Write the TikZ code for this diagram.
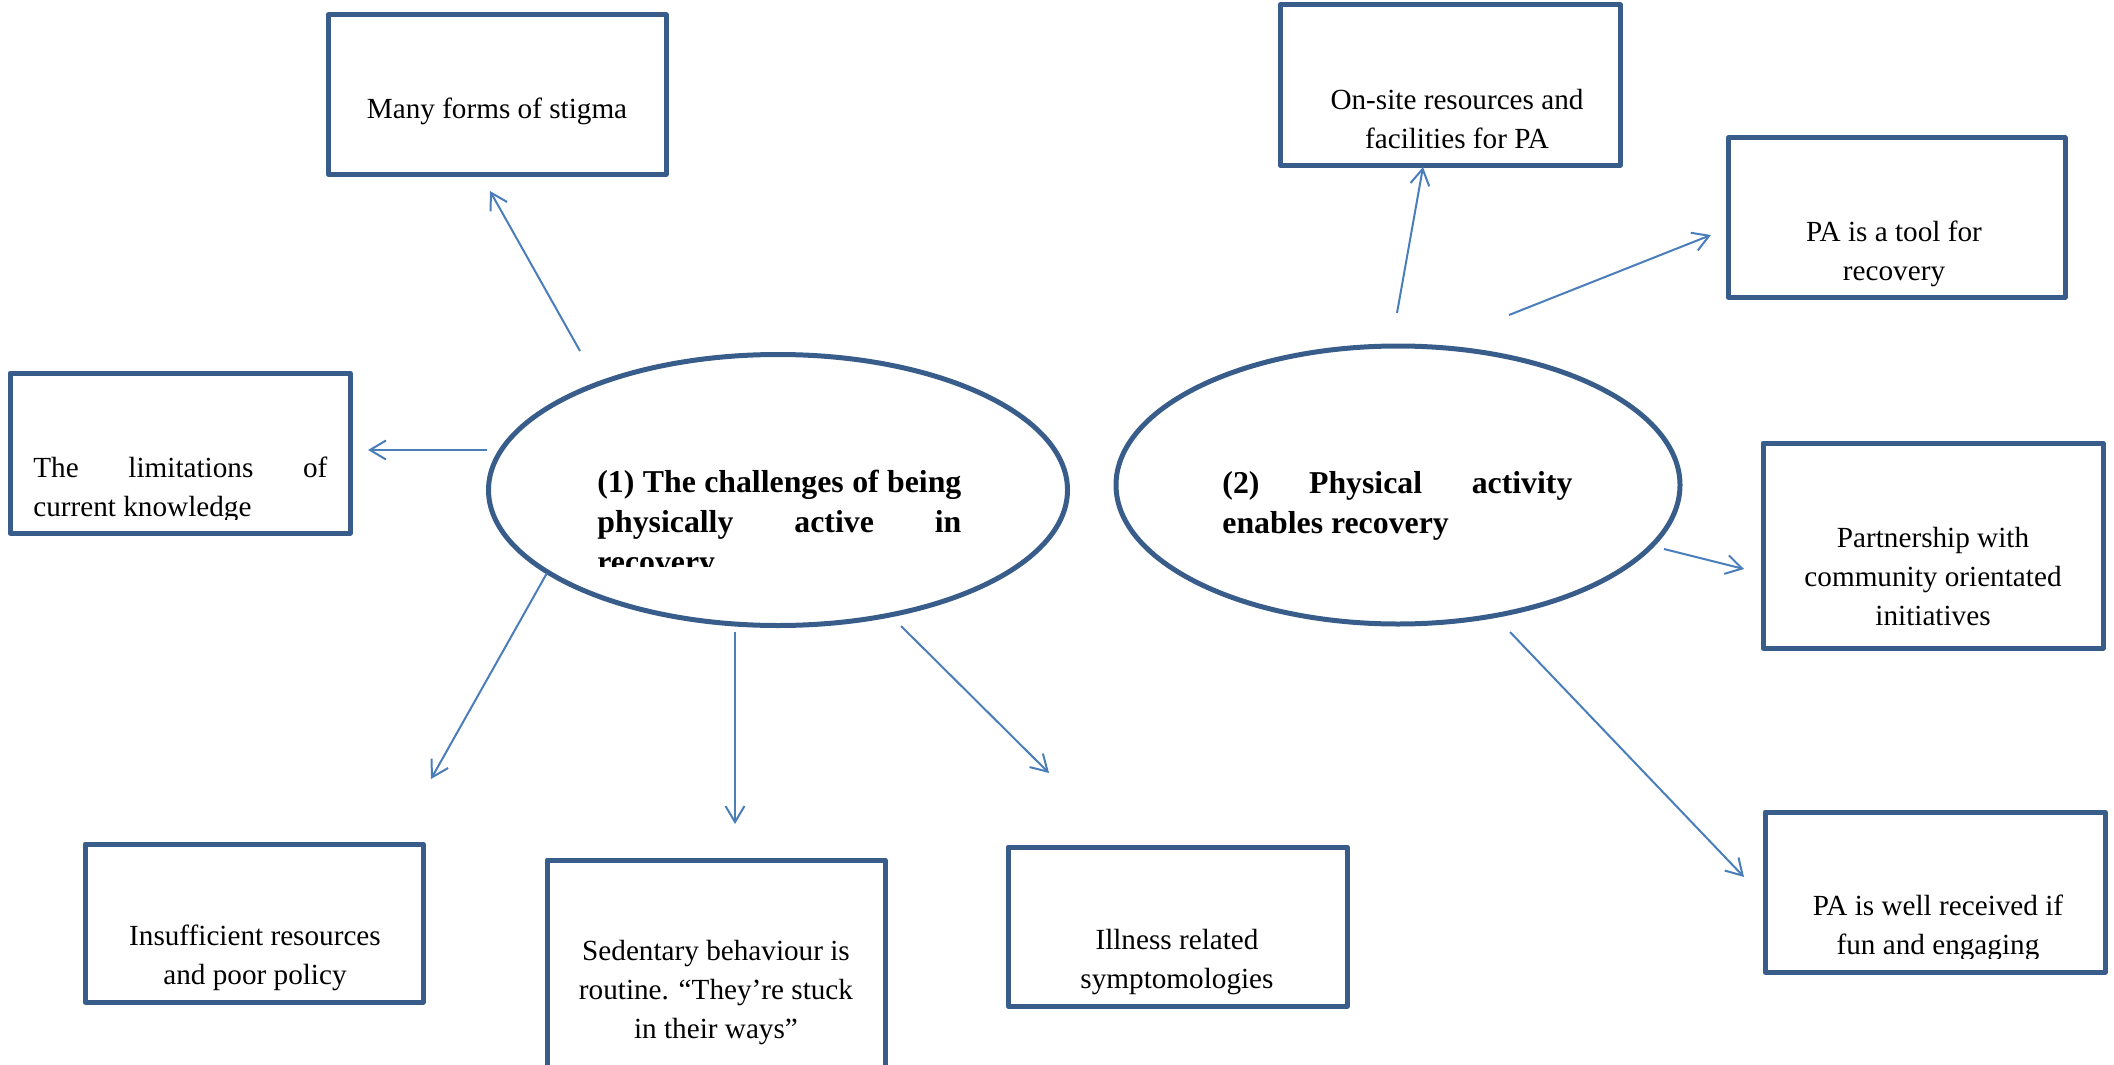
\documentclass[tikz,border=0pt]{standalone}
\usepackage{fontspec}
\setmainfont{Liberation Serif}
\usetikzlibrary{arrows.meta,shapes.geometric,fit}
\definecolor{frameblue}{HTML}{385D8A}
\definecolor{linkblue}{HTML}{4A7EBB}
\tikzset{
  themebox/.style={draw=frameblue, line width=2.5pt, line join=round, inner sep=0pt},
  core/.style={ellipse, draw=frameblue, line width=2.5pt, inner sep=0pt},
  boxtext/.style={anchor=base, inner sep=0pt, font=\fontsize{14.6}{19.5}\selectfont},
  coretext/.style={anchor=base west, inner sep=0pt, font=\fontsize{15.9}{20}\selectfont\bfseries},
  link/.style={draw=linkblue, line width=1pt, -{Straight Barb[length=8pt,width=9.5pt]}}
}
\begin{document}
\begin{tikzpicture}[x=0.5pt,y=-0.5pt]
\path[clip] (0,0) rectangle (2114,1065);

% central themes
\node[core, minimum width=289.5pt, minimum height=135.5pt] (e1) at (778,490) {};
\node[core, minimum width=282pt, minimum height=139pt] (e2) at (1398,485) {};
\begin{scope}
  \clip (580,440) rectangle (1000,566);
  \node[coretext] (e1t) at (597,492)
    {\parbox[t]{182pt}{(1) The challenges of being\linebreak physically active in\linebreak recovery}};
\end{scope}
\node[coretext] (e2t) at (1222,493)
  {\parbox[t]{175pt}{(2) Physical activity\linebreak enables recovery}};

% sub-theme boxes
\node[themebox, fit={(328,15) (666,174)}] (b1) {};
\node[themebox, fit={(1280,5) (1620,165)}] (b2) {};
\node[themebox, fit={(1728,138) (2065,297)}] (b3) {};
\node[themebox, fit={(10,373) (350,533)}] (b4) {};
\node[themebox, fit={(1763,443) (2103,648)}] (b5) {};
\node[themebox, fit={(85,844) (423,1002)}] (b6) {};
\node[themebox, fit={(547,860) (885,1075)}] (b7) {};
\node[themebox, fit={(1008,847) (1347,1006)}] (b8) {};
\node[themebox, fit={(1765,812) (2105,972)}] (b9) {};

% box texts
\node[boxtext] (t1) at (497,119) {Many forms of stigma};
\node[boxtext] (t2) at (1457,110) {\parbox[t]{165pt}{\centering On-site resources and\\facilities for PA}};
\node[boxtext] (t3) at (1894,241) {\parbox[t]{165pt}{\centering PA is a tool for\\recovery}};
\begin{scope}
  \clip (20,380) rectangle (345,519);
  \node[boxtext, anchor=base west] (t4) at (33,477)
    {\parbox[t]{147pt}{The limitations of\linebreak current knowledge}};
\end{scope}
\node[boxtext] (t5) at (1933,547) {\parbox[t]{165pt}{\centering Partnership with\\community orientated\\initiatives}};
\node[boxtext] (t6) at (255,945) {\parbox[t]{165pt}{\centering Insufficient resources\\and poor policy}};
\node[boxtext] (t7) at (716,960) {\parbox[t]{165pt}{\centering Sedentary behaviour is\\routine. “They’re stuck\\in their ways”}};
\node[boxtext] (t8) at (1177,949) {\parbox[t]{165pt}{\centering Illness related\\symptomologies}};
\begin{scope}
  \clip (1770,820) rectangle (2100,958);
  \node[boxtext] (t9) at (1938,915) {\parbox[t]{165pt}{\centering PA is well received if\\fun and engaging}};
\end{scope}

% connector ends
\coordinate (s1) at (580,351);  \coordinate (p1) at (490,191);
\coordinate (s4) at (487,450);  \coordinate (p4) at (368,450);
\coordinate (s6) at (547,573);  \coordinate (p6) at (431,779);
\coordinate (s7) at (735,632);  \coordinate (p7) at (735,824);
\coordinate (s8) at (901,626);  \coordinate (p8) at (1049,773);
\coordinate (s2) at (1397,313); \coordinate (p2) at (1423,167);
\coordinate (s3) at (1509,315); \coordinate (p3) at (1711,235);
\coordinate (s5) at (1664,549); \coordinate (p5) at (1744,569);
\coordinate (s9) at (1510,632); \coordinate (p9) at (1744,877);

% connectors
\foreach \i in {1,...,9} \draw[link] (s\i) -- (p\i);
\end{tikzpicture}
\end{document}
